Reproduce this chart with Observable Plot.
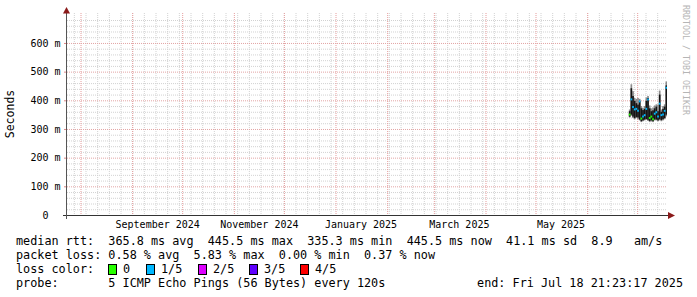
<!DOCTYPE html>
<html><head><meta charset="utf-8">
<script src="https://cdn.jsdelivr.net/npm/d3@7"></script>
<script src="https://cdn.jsdelivr.net/npm/@observablehq/plot@0.6"></script>
<style>
body{margin:0;background:#fff;}
#wrap{position:relative;width:697px;height:297px;overflow:hidden;background:#fff;font-family:"DejaVu Sans Mono",monospace;}
#wrap svg{position:absolute;left:0;top:0;}
.lg{position:absolute;font-size:11.8px;line-height:14px;white-space:pre;color:#000;}
.box{position:absolute;width:7px;height:9px;border:1px solid #000;}
</style></head>
<body><div id="wrap"></div>
<script>
// ---- data ----
const endTime = "2025-07-18T21:23:17Z";
const spanDays = 360;
const days = ["2025-06-26","2025-06-27","2025-06-28","2025-06-29","2025-06-30","2025-07-01","2025-07-02","2025-07-03","2025-07-04","2025-07-05","2025-07-06","2025-07-07","2025-07-08","2025-07-09","2025-07-10","2025-07-11","2025-07-12","2025-07-13","2025-07-14","2025-07-15","2025-07-16","2025-07-17","2025-07-18"];
const smokeLow  = [340,346,338,334,338,334,330,324,327,330,332,328,324,326,324,330,330,327,330,327,330,334,344];
const coreLow   = [343,350,343,338,342,340,333,327,330,333,335,332,328,330,327,333,333,330,334,331,334,338,350];
const coreHigh  = [362,442,415,398,390,385,398,372,366,370,398,408,372,362,365,372,378,362,420,360,370,378,452];
const smokeHigh = [368,456,432,408,405,408,405,380,374,380,410,415,382,372,375,382,386,385,434,368,380,386,466];
const medianRtt = [352,405,378,370,372,365,398,338,345,350,372,405,340,345,336,355,360,345,390,350,352,365,445.5];
const lossLevel = [0,1,1,1,1,1,1,0,1,1,1,1,0,0,0,1,1,1,1,1,1,1,1];
const lossLabels = ["0","1/5","2/5","3/5","4/5"];
const lossColors = ["#26ff00","#00b8ff","#dd00ff","#5e00ff","#ff0000"];
const yMajorTicks = [0,100,200,300,400,500,600];
const labelMonths = ["2024-09-01","2024-11-01","2025-01-01","2025-03-01","2025-05-01"];
const legendLines = [
  "median rtt:  365.8 ms avg  445.5 ms max  335.3 ms min  445.5 ms now  41.1 ms sd  8.9   am/s",
  "packet loss: 0.58 % avg  5.83 % max  0.00 % min  0.37 % now"
];
const probeText = "probe:       5 ICMP Echo Pings (56 Bytes) every 120s";
const endText = "end: Fri Jul 18 21:23:17 2025";

// ---- build ----
const end = new Date(endTime);
const start = d3.utcDay.offset(end, -spanDays);
const rows = days.map((d, i) => ({
  t: new Date(d + "T00:00:00Z"),
  t2: d3.utcDay.offset(new Date(d + "T00:00:00Z"), 1),
  lo: smokeLow[i], clo: coreLow[i], chi: coreHigh[i], hi: smokeHigh[i],
  med: medianRtt[i], loss: lossLevel[i]
}));
const weeks = d3.utcSunday.range(start, end);
const months = d3.utcMonth.range(start, end);
const labelTicks = labelMonths.map(m => d3.utcDay.offset(new Date(m + "T00:00:00Z"), 15));
const yMinor = d3.range(20, 700, 20).filter(v => v % 100 !== 0);
const yMajorGrid = yMajorTicks.filter(v => v > 0);

const plot = Plot.plot({
  width: 697, height: 232,
  marginLeft: 67, marginRight: 30, marginTop: 13, marginBottom: 17,
  style: {fontFamily: "DejaVu Sans Mono", fontSize: "10px", background: "#fff", color: "#000"},
  x: {type: "utc", domain: [start, end]},
  y: {domain: [0, 704.5]},
  marks: [
    Plot.ruleX(weeks, {stroke: "#d2d2d2", strokeDasharray: "1,1"}),
    Plot.ruleY(yMinor, {stroke: "#d2d2d2", strokeDasharray: "1,1"}),
    Plot.ruleX(months, {stroke: "#e69c9c", strokeDasharray: "1,1"}),
    Plot.ruleY(yMajorGrid, {stroke: "#e3a5a5", strokeDasharray: "1,1"}),
    Plot.rect(rows, {x1: "t", x2: "t2", y1: "lo", y2: "hi", fill: "#8a8a8a", inset: 0, clip: true}),
    Plot.rect(rows, {x1: "t", x2: "t2", y1: "clo", y2: "chi", fill: "#141414", inset: 0, clip: true}),
    Plot.ruleY(rows, {x1: "t", x2: "t2", y: "med", stroke: d => lossColors[d.loss], strokeWidth: 2, clip: true}),
    Plot.axisY(yMajorTicks, {tickSize: 3, tickPadding: 4, stroke: "#d88", label: null,
      tickFormat: d => d === 0 ? "0\u00a0\u00a0" : `${d} m`}),
    Plot.axisX(labelTicks, {tickSize: 0, tickPadding: 5, label: null, tickFormat: d3.utcFormat("%B %Y")})
  ]
});
const wrap = document.getElementById("wrap");
wrap.appendChild(plot);

// axis lines, arrows and side labels positioned from the scales
const sx = plot.scale("x"), sy = plot.scale("y");
const x0 = sx.apply(start), x1 = sx.apply(end);
const y0 = sy.apply(0), yTop = sy.apply(704.5);
const svg = d3.select(plot);
const g = svg.append("g");
g.append("line").attr("x1", x0 - 4).attr("x2", x1 + 2).attr("y1", y0 + 0.5).attr("y2", y0 + 0.5)
  .attr("stroke", "#333").attr("shape-rendering", "crispEdges");
g.append("line").attr("x1", x0 - 0.5).attr("x2", x0 - 0.5).attr("y1", y0 + 4).attr("y2", yTop - 1)
  .attr("stroke", "#555").attr("shape-rendering", "crispEdges");
g.append("path").attr("d", `M${x1 + 8},${y0 + 0.5}L${x1 + 1},${y0 - 3}L${x1 + 1},${y0 + 4}Z`).attr("fill", "#8b1a1a");
g.append("path").attr("d", `M${x0 - 0.5},${yTop - 6}L${x0 - 4},${yTop + 0.5}L${x0 + 3},${yTop + 0.5}Z`).attr("fill", "#8b1a1a");
g.append("text").attr("transform", `translate(14,114) rotate(-90)`)
  .attr("text-anchor", "middle").attr("font-family", "DejaVu Sans Mono").attr("font-size", "11.5px").text("Seconds");
g.append("text").attr("transform", `translate(683,5) rotate(90)`)
  .attr("text-anchor", "start").attr("font-family", "DejaVu Sans Mono").attr("font-size", "8.3px")
  .attr("fill", "#b5b5b5").text("RRDTOOL / TOBI OETIKER");

// legend below
function addText(txt, left, top, extra) {
  const d = document.createElement("div");
  d.className = "lg"; d.textContent = txt;
  d.style.left = left + "px"; d.style.top = top + "px";
  if (extra) Object.assign(d.style, extra);
  wrap.appendChild(d);
}
addText(legendLines[0], 16, 234);
addText(legendLines[1], 16, 248);
addText("loss color:", 16, 262);
const boxX = [108, 146, 198, 249, 300];
lossLabels.forEach((lab, i) => {
  const b = document.createElement("div");
  b.className = "box"; b.style.background = lossColors[i];
  b.style.left = boxX[i] + "px"; b.style.top = "264px";
  wrap.appendChild(b);
  addText(lab, boxX[i] + 15, 262);
});
addText(probeText, 16, 276);
addText(endText, 0, 276, {left: "auto", right: "14px"});
</script>
</body></html>
